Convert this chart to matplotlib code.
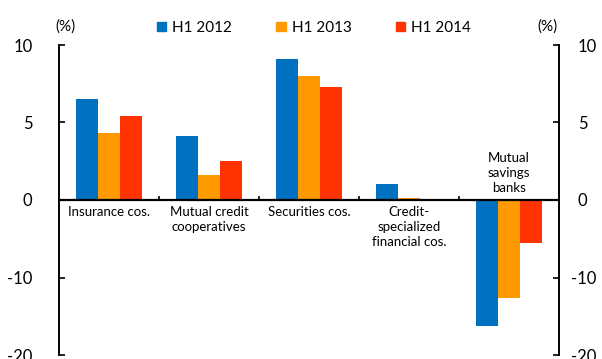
import numpy as np
import matplotlib
matplotlib.use("Agg")
import matplotlib.pyplot as plt
from matplotlib.patches import Patch
from matplotlib.transforms import ScaledTranslation

plt.rcParams['font.family'] = ['Lato', 'DejaVu Sans']

categories = ["Insurance cos.", "Mutual credit\ncooperatives", "Securities cos.",
              "Credit-\nspecialized\nfinancial cos.", "Mutual\nsavings\nbanks"]
series = ["H1 2012", "H1 2013", "H1 2014"]
h1_2012 = [6.5, 4.1, 9.1, 1.0, -16.3]
h1_2013 = [4.3, 1.6, 8.0, 0.1, -12.7]
h1_2014 = [5.4, 2.5, 7.3, 0.0, -5.5]
colors = ["#0070C0", "#FF9900", "#FF3300"]
yticks = [10, 5, 0, -10, -20]


# negative side of the axis is drawn at half scale
def fwd(y):
    y = np.asarray(y, dtype=float)
    return np.where(y >= 0, y, y / 2)


def inv(y):
    y = np.asarray(y, dtype=float)
    return np.where(y >= 0, y, y * 2)


fig = plt.figure(figsize=(6.02, 3.59), dpi=100)
ax = fig.add_axes([59 / 602, 1 - 355 / 359, 500 / 602, 310 / 359])
ax.set_yscale('function', functions=(fwd, inv))

x = np.arange(len(categories))
w = 0.222
for k, vals in enumerate([h1_2012, h1_2013, h1_2014]):
    ax.bar(x + (k - 1) * w, vals, width=w, color=colors[k], label=series[k],
           edgecolor='none', zorder=2)

ax.set_xlim(-0.5, len(categories) - 0.5)
ax.set_xticks([])

# right-hand axis repeats the same scale
ax2 = ax.twinx()
ax2.set_yscale('function', functions=(fwd, inv))
for a, pad in [(ax, 19), (ax2, 13.5)]:
    a.set_ylim(-20, 10)
    a.set_yticks(yticks)
    a.set_yticklabels([str(t) for t in yticks])
    a.minorticks_off()
    a.tick_params(axis='y', direction='in', length=4.5, width=1.2,
                  labelsize=12, pad=pad)
    for s in ['top', 'bottom']:
        a.spines[s].set_visible(False)
    for s in ['left', 'right']:
        a.spines[s].set_linewidth(1.2)

# on the right, the minus sign hangs left of the digit column
shift = ScaledTranslation(-5 / 72, 0, fig.dpi_scale_trans)
for t, v in zip(ax2.yaxis.get_major_ticks(), yticks):
    if v < 0:
        t.label2.set_transform(t.label2.get_transform() + shift)

ax.axhline(0, color='black', lw=1.6, zorder=3)
ax.vlines(x[:-1] + 0.5, 0, 0.25, color='black', lw=1.2, zorder=3)

# category names sit on the zero line, away from the bars
for i, name in enumerate(categories):
    low = min(h1_2012[i], h1_2013[i], h1_2014[i])
    if low < 0:
        ax.annotate(name, xy=(i, 0), xytext=(0, 4), textcoords='offset points',
                    ha='center', va='bottom', fontsize=9.5, linespacing=1.3)
    else:
        ax.annotate(name, xy=(i, 0), xytext=(0, -4), textcoords='offset points',
                    ha='center', va='top', fontsize=9.5, linespacing=1.3)

fig.text(65 / 602, 1 - 27 / 359, "(%)", ha='center', va='center', fontsize=11)
fig.text(548 / 602, 1 - 27 / 359, "(%)", ha='center', va='center', fontsize=11)

handles = [Patch(color=c, label=s) for c, s in zip(colors, series)]
fig.legend(handles=handles, loc='center', bbox_to_anchor=(314 / 602, 1 - 28 / 359),
           ncol=3, frameon=False, fontsize=11, handlelength=0.6, handleheight=0.6,
           handletextpad=0.4, columnspacing=2.9)

fig.savefig("out.png", dpi=100)
